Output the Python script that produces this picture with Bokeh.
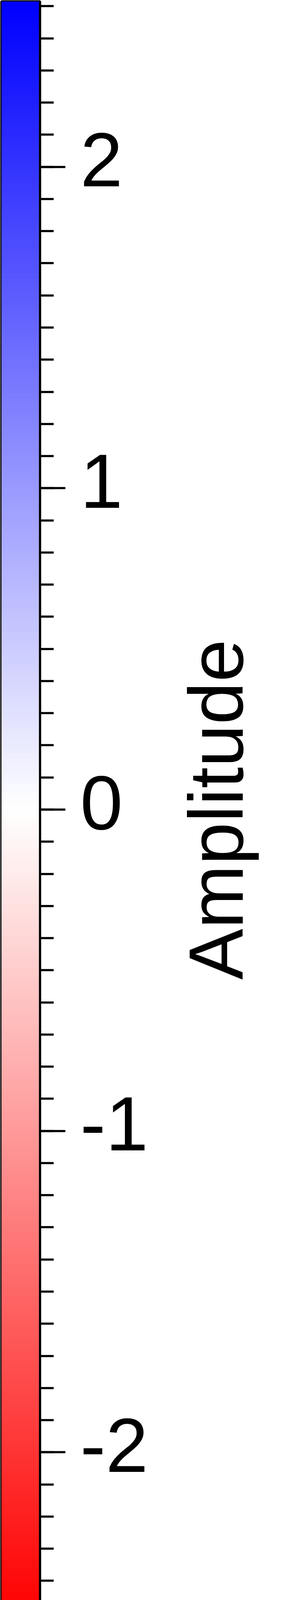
import numpy as np
from bokeh.embed import file_html
from bokeh.layouts import row
from bokeh.models import (CustomJSTickFormatter, FixedTicker, LinearAxis, LinearColorMapper,
                          PrintfTickFormatter, Range1d, SingleIntervalTicker)
from bokeh.plotting import figure
from bokeh.resources import INLINE

# --- data ---
amp_low = -2.515
amp_high = 2.515
major_step = 1
minor_per_major = 10
cmap_stops = ["#ff0000", "#ffffff", "#0000ff"]   # low -> 0 -> high
axis_title = "Amplitude"

# palette: linear red -> white -> blue
n_col = 256
stops = np.array([[int(c[i:i + 2], 16) for i in (1, 3, 5)] for c in cmap_stops], float)
pos = np.linspace(0, 1, len(cmap_stops))
t = np.linspace(0, 1, n_col)
rgb = np.stack([np.interp(t, pos, stops[:, k]) for k in range(3)], axis=1)
palette = ["#%02x%02x%02x" % tuple(int(round(v)) for v in row_) for row_ in rgb]

mapper = LinearColorMapper(palette=palette, low=amp_low, high=amp_high)

FONT = "Liberation Sans"
FSIZE = "196px"
LW = 5.5
FRAME_H = 4138
BAR_PANEL_W = 402          # bar + ticks + tick labels
TOTAL_W = 704
# tick labels sit a little above their ticks in the original
lab_shift = 18 * (amp_high - amp_low) / FRAME_H

p = figure(
    frame_width=99, frame_height=FRAME_H,
    min_border_left=3, min_border_right=BAR_PANEL_W - 102,
    min_border_top=3, min_border_bottom=3,
    x_range=(0, 1), y_range=(amp_low, amp_high),
    output_backend="svg", toolbar_location=None,
    y_axis_location=None,
)
p.xaxis.visible = False
p.grid.visible = False
p.background_fill_color = "white"
p.border_fill_color = "white"
p.outline_line_color = "black"
p.outline_line_width = LW
p.extra_y_ranges = {"labels": Range1d(amp_low - lab_shift, amp_high - lab_shift)}

# gradient sampled across the value range
grad = np.linspace(amp_low, amp_high, 1024).reshape(-1, 1)
p.image(image=[grad], x=0, y=amp_low, dw=1, dh=amp_high - amp_low, color_mapper=mapper)

# axis 1: line and ticks only
ticks_ax = LinearAxis(
    ticker=SingleIntervalTicker(interval=major_step, num_minor_ticks=minor_per_major),
    formatter=CustomJSTickFormatter(code="return ''"),
)
ticks_ax.axis_line_color = "black"
ticks_ax.axis_line_width = LW
ticks_ax.major_tick_line_width = LW
ticks_ax.minor_tick_line_width = LW
ticks_ax.major_tick_in = 0
ticks_ax.minor_tick_in = 0
ticks_ax.major_tick_out = 65
ticks_ax.minor_tick_out = 35
ticks_ax.major_label_standoff = 0
p.add_layout(ticks_ax, "right")

# axis 2: tick labels only
lab_ax = LinearAxis(
    y_range_name="labels",
    ticker=SingleIntervalTicker(interval=major_step, num_minor_ticks=0),
    formatter=PrintfTickFormatter(format="%d"),
)
lab_ax.axis_line_color = None
lab_ax.major_tick_line_color = None
lab_ax.minor_tick_line_color = None
lab_ax.major_tick_in = 0
lab_ax.major_tick_out = 0
lab_ax.minor_tick_in = 0
lab_ax.minor_tick_out = 0
lab_ax.major_label_standoff = 38
lab_ax.major_label_text_font = FONT
lab_ax.major_label_text_font_size = FSIZE
lab_ax.major_label_text_color = "black"
p.add_layout(lab_ax, "right")

# title strip: a left axis reads bottom-to-top, like the original
t_fig = figure(
    frame_width=10, frame_height=FRAME_H,
    min_border_left=TOTAL_W - BAR_PANEL_W - 10, min_border_right=0,
    min_border_top=3, min_border_bottom=3,
    x_range=(0, 1), y_range=(amp_low, amp_high),
    output_backend="svg", toolbar_location=None,
)
t_fig.xaxis.visible = False
t_fig.grid.visible = False
t_fig.outline_line_color = None
t_fig.background_fill_color = "white"
t_fig.border_fill_color = "white"
t_ax = t_fig.yaxis[0]
t_ax.ticker = FixedTicker(ticks=[])
t_ax.axis_line_color = None
t_ax.major_tick_out = 0
t_ax.minor_tick_out = 0
t_ax.major_label_standoff = 0
t_ax.axis_label = axis_title
t_ax.axis_label_text_font = FONT
t_ax.axis_label_text_font_size = FSIZE
t_ax.axis_label_text_font_style = "normal"
t_ax.axis_label_text_color = "black"
t_ax.axis_label_standoff = 31

layout = row(p, t_fig, spacing=0)

open("out.html", "w").write(file_html(layout, INLINE))
